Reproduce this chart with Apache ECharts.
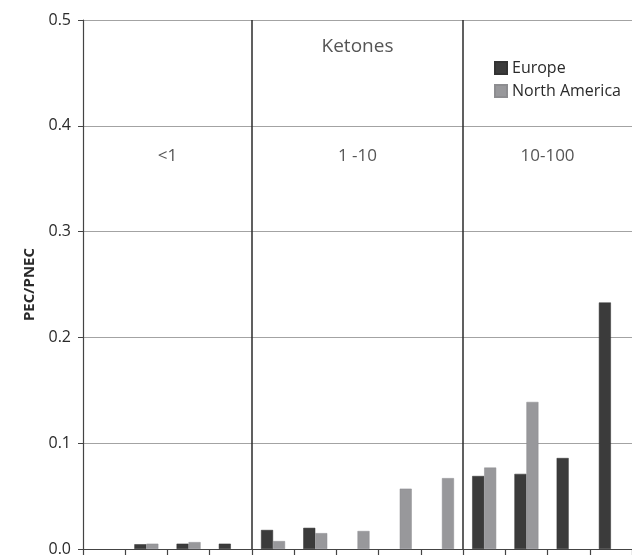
<!DOCTYPE html>
<html>
<head>
<meta charset="utf-8">
<script src="https://cdn.jsdelivr.net/npm/echarts@6/dist/echarts.min.js"></script>
<style>html,body{margin:0;padding:0;background:#fff;}#c{width:632px;height:557px;}</style>
</head>
<body>
<div id="c"></div>
<script>
var categories = ['c1','c2','c3','c4','c5','c6','c7','c8','c9','c10','c11','c12','c13'];
var europe = [null, 0.0045, 0.005, 0.005, 0.018, 0.020, null, null, null, 0.069, 0.071, 0.086, 0.233];
var northAmerica = [null, 0.005, 0.0065, null, 0.0075, 0.015, 0.017, 0.057, 0.067, 0.077, 0.139, null, null];
var yTicks = [0, 0.1, 0.2, 0.3, 0.4, 0.5];
var dividers = [4, 9];
var groupLabels = [{x: 2, y: 0.371, text: '<1'}, {x: 6.5, y: 0.371, text: '1 -10'}, {x: 11, y: 0.371, text: '10-100'}];
var titleLabel = {x: 6.5, y: 0.475, text: 'Ketones'};

var FONT = '"Open Sans", "Noto Sans", sans-serif';
var chart = echarts.init(document.getElementById('c'), null, {renderer: 'canvas'});

var textData = groupLabels.map(function (g) {
  return {value: [g.x, g.y], label: {formatter: g.text, fontSize: 17}};
});
textData.push({value: [titleLabel.x, titleLabel.y], label: {formatter: titleLabel.text, fontSize: 19}});

chart.setOption({
  animation: false,
  backgroundColor: '#fff',
  grid: {left: 83, right: -1, top: 20, bottom: 6, containLabel: false},
  legend: {
    orient: 'vertical', left: 489, top: 55,
    itemWidth: 12, itemHeight: 12, itemGap: 7,
    icon: 'rect',
    textStyle: {fontFamily: FONT, fontSize: 16, color: '#2a2a2a'},
    data: ['Europe', 'North America']
  },
  xAxis: [{
    type: 'category', data: categories, boundaryGap: true,
    axisLine: {lineStyle: {color: '#444', width: 1.2}},
    axisTick: {show: true, inside: false, length: 6, lineStyle: {color: '#444', width: 1.2}},
    axisLabel: {show: false},
    splitLine: {show: false}
  }, {
    type: 'value', min: 0, max: categories.length, show: false
  }],
  yAxis: {
    type: 'value', min: yTicks[0], max: yTicks[yTicks.length - 1], interval: 0.1,
    name: 'PEC/PNEC', nameLocation: 'middle', nameGap: 45, nameRotate: 90,
    nameTextStyle: {fontFamily: FONT, fontWeight: 'bold', fontSize: 15, color: '#2a2a2a'},
    axisLine: {show: true, lineStyle: {color: '#444', width: 1.2}},
    axisTick: {show: true, inside: false, length: 5, lineStyle: {color: '#444'}},
    axisLabel: {fontFamily: FONT, fontSize: 16, color: '#2a2a2a', margin: 12,
      formatter: function (v) { return v.toFixed(1); }},
    splitLine: {show: true, lineStyle: {color: '#a3a3a3', width: 1.2}}
  },
  series: [{
    name: 'Europe', type: 'bar', data: europe, xAxisIndex: 0,
    barWidth: 12, barGap: '0%',
    itemStyle: {color: '#3b3b3b', borderColor: '#333', borderWidth: 0.5}
  }, {
    name: 'North America', type: 'bar', data: northAmerica, xAxisIndex: 0,
    barWidth: 12, barGap: '0%',
    itemStyle: {color: '#98989b', borderColor: '#8d8d90', borderWidth: 0.5}
  }, {
    name: 'dividers', type: 'scatter', xAxisIndex: 1, data: [], silent: true,
    markLine: {
      symbol: 'none', silent: true, label: {show: false},
      lineStyle: {color: '#2b2b2b', width: 1.5, type: 'solid'},
      data: dividers.map(function (d) { return {xAxis: d}; })
    }
  }, {
    name: 'texts', type: 'scatter', xAxisIndex: 1, symbolSize: 0, silent: true,
    data: textData,
    label: {show: true, position: 'inside', color: '#2a2a2a', fontFamily: FONT}
  }]
});
</script>
</body>
</html>
